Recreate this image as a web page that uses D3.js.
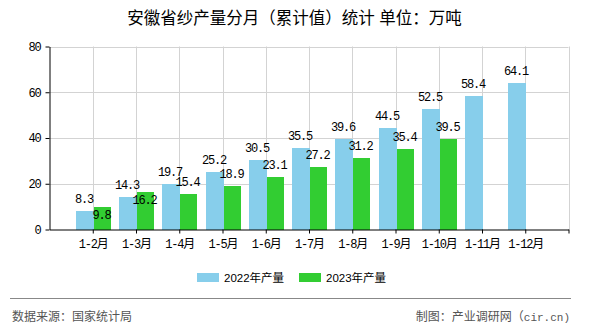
<!DOCTYPE html>
<html>
<head>
<meta charset="utf-8">
<script src="https://cdn.jsdelivr.net/npm/d3@7"></script>
<style>
  html, body { margin: 0; padding: 0; background: #fff; }
  svg { display: block; }
</style>
</head>
<body>
<svg id="chart" width="590" height="330"></svg>
<script>
// Cumulative yarn output in Anhui province, 10k tonnes
const categories = ["1-2月", "1-3月", "1-4月", "1-5月", "1-6月", "1-7月", "1-8月", "1-9月", "1-10月", "1-11月", "1-12月"];
const values2022 = [8.3, 14.3, 19.7, 25.2, 30.5, 35.5, 39.6, 44.5, 52.5, 58.4, 64.1];
const values2023 = [9.8, 16.2, 15.4, 18.9, 23.1, 27.2, 31.2, 35.4, 39.5, null, null];
const yTicks = [0, 20, 40, 60, 80];
const seriesNames = ["2022年产量", "2023年产量"];
const seriesColors = ["#87CEEB", "#32CD32"];

const svg = d3.select("#chart");
const monoFont = "'Liberation Mono', 'DejaVu Sans Mono', 'Noto Sans CJK SC', monospace";
const cjkFont = "'Liberation Sans', 'Noto Sans CJK SC', sans-serif";

const plotLeft = 49.5, plotRight = 568.5, plotTop = 46.5, plotBottom = 229.5;

// categories sit one step in from each edge: index -1 is the left edge, 11 the right edge
const x = d3.scaleLinear().domain([-1, categories.length]).range([plotLeft, plotRight]);
const y = d3.scaleLinear().domain([0, 80]).range([plotBottom, plotTop]);

// title
svg.append("text")
  .attr("x", 294.5).attr("y", 23.5)
  .attr("text-anchor", "middle")
  .style("font-family", cjkFont)
  .style("font-size", "16.5px")
  .attr("fill", "#000")
  .text("安徽省纱产量分月（累计值）统计 单位：万吨");

// grid
const grid = svg.append("g").attr("stroke", "#d3d3d3").attr("stroke-width", 1);
grid.selectAll("line.h").data(yTicks.filter(d => d > 0)).join("line")
  .attr("x1", plotLeft).attr("x2", plotRight)
  .attr("y1", d => Math.round(y(d)) + 0.5).attr("y2", d => Math.round(y(d)) + 0.5);
grid.selectAll("line.v").data(d3.range(categories.length + 1)).join("line")
  .attr("x1", d => Math.round(x(d)) + 0.5).attr("x2", d => Math.round(x(d)) + 0.5)
  .attr("y1", plotTop).attr("y2", plotBottom);

// bars
const barW2022 = 18, barW2023 = 17;
const bars = svg.append("g").attr("shape-rendering", "crispEdges");
bars.selectAll("rect.s2022").data(values2022).join("rect")
  .attr("x", (d, i) => Math.round(x(i)) - barW2022 + 0.5)
  .attr("width", barW2022)
  .attr("y", d => y(d))
  .attr("height", d => plotBottom - y(d))
  .attr("fill", seriesColors[0]);
bars.selectAll("rect.s2023").data(values2023.map((v, i) => ({ v, i })).filter(d => d.v != null)).join("rect")
  .attr("x", d => Math.round(x(d.i)) + 0.5)
  .attr("width", barW2023)
  .attr("y", d => y(d.v))
  .attr("height", d => plotBottom - y(d.v))
  .attr("fill", seriesColors[1]);

// axes
const yAxis = d3.axisLeft(y).tickValues(yTicks).tickSize(4).tickPadding(5).tickSizeOuter(0);
const gy = svg.append("g").attr("transform", `translate(${plotLeft},0)`).call(yAxis);
const xAxis = d3.axisBottom(x).tickValues(d3.range(categories.length + 1))
  .tickFormat(i => categories[i] || "").tickSize(4).tickPadding(4).tickSizeOuter(0);
const gx = svg.append("g").attr("transform", `translate(0,${plotBottom})`).call(xAxis);
[gx, gy].forEach(g => {
  g.select(".domain").attr("stroke", "#000");
  g.selectAll(".tick line").attr("stroke", "#000");
  g.selectAll(".tick text")
    .attr("fill", "#000")
    .style("font-family", monoFont)
    .style("font-size", "12px")
    .style("letter-spacing", "-1.2px");
});
gx.selectAll(".tick text").attr("dy", "0.9em");

// value labels
const labelStyle = sel => sel
  .attr("text-anchor", "middle")
  .style("font-family", monoFont)
  .style("font-size", "12px")
  .style("letter-spacing", "-1.2px")
  .attr("fill", "#000");
const charW = 6, labelH = 9;
const boxes2022 = values2022.map((v, i) => {
  const cx = Math.round(x(i)) - barW2022 / 2;
  const base = y(v) - 8;
  const w = String(v).length * charW;
  return { v, cx, base, x0: cx - w / 2 - 1, x1: cx + w / 2 + 1, y0: base - labelH, y1: base };
});
const labels2023 = values2023.map((v, i) => {
  if (v == null) return null;
  const cx = Math.round(x(i)) + barW2023 / 2;
  let base = y(v) - 8;
  const w = String(v).length * charW;
  const b = boxes2022[i];
  const overlapX = cx - w / 2 - 1 < b.x1 && cx + w / 2 + 1 > b.x0;
  const overlapY = base - labelH < b.y1 && base > b.y0;
  // move the label inside the bar when it would collide with its neighbour
  if (overlapX && overlapY) base = y(v) + 12;
  return { v, cx, base };
}).filter(d => d);

const lab = svg.append("g");
lab.selectAll("text.l2022").data(boxes2022).join("text")
  .attr("x", d => d.cx).attr("y", d => d.base)
  .call(labelStyle)
  .text(d => d.v.toFixed(1));
lab.selectAll("text.l2023").data(labels2023).join("text")
  .attr("x", d => d.cx).attr("y", d => d.base)
  .call(labelStyle)
  .text(d => d.v.toFixed(1));

// legend
const legendX = [197, 299];
const legend = svg.append("g");
seriesNames.forEach((name, k) => {
  legend.append("rect")
    .attr("x", legendX[k]).attr("y", 273)
    .attr("width", 22).attr("height", 9)
    .attr("fill", seriesColors[k]);
  legend.append("text")
    .attr("x", legendX[k] + 27).attr("y", 282)
    .style("font-family", cjkFont)
    .style("font-size", "11.5px")
    .attr("fill", "#000")
    .text(name);
});

// footer
svg.append("line")
  .attr("x1", 10).attr("x2", 571)
  .attr("y1", 298.5).attr("y2", 298.5)
  .attr("stroke", "#888").attr("stroke-width", 1);
svg.append("text")
  .attr("x", 12).attr("y", 320.5)
  .style("font-family", cjkFont)
  .style("font-size", "12px")
  .attr("fill", "#555")
  .text("数据来源：国家统计局");
const credit = svg.append("text")
  .attr("x", 570).attr("y", 320.5)
  .attr("text-anchor", "end")
  .style("font-family", cjkFont)
  .style("font-size", "12px")
  .attr("fill", "#555");
credit.append("tspan").text("制图：产业调研网（");
credit.append("tspan").style("font-family", monoFont).style("font-size", "11px").text("cir.cn)");
</script>
</body>
</html>
